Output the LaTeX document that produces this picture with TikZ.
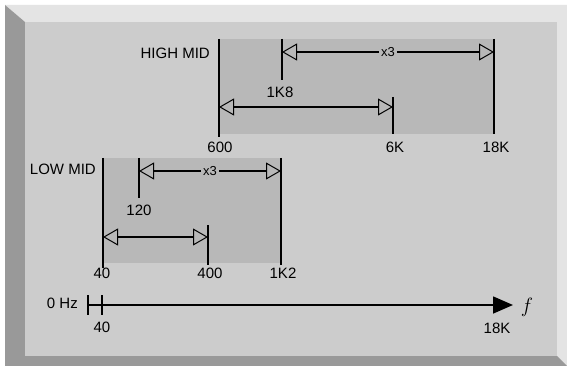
\documentclass[tikz,border=0pt]{standalone}
\usepackage{fontspec}
\setmainfont{Liberation Sans}
\usepackage{xcolor}
\usetikzlibrary{arrows.meta}
\definecolor{panel}{HTML}{CCCCCC}
\definecolor{bandgray}{HTML}{B8B8B8}
\definecolor{edgedark}{HTML}{999999}
\definecolor{edgelight}{HTML}{E4E4E4}

\begin{document}
\begin{tikzpicture}[
  x=1pt,y=-1pt,
  lbl/.style={font=\fontsize{15}{15}\selectfont,inner sep=0pt},
  factor/.style={font=\fontsize{13}{13}\selectfont,fill=bandgray,inner sep=2.5pt},
  limit/.style={line width=1.6pt},
  dimline/.style={line width=1.6pt,
    {Triangle[open,length=15pt,width=17pt,line width=1pt]}-{Triangle[open,length=15pt,width=17pt,line width=1pt]}},
  axis/.style={line width=1.6pt,-{Triangle[length=20pt,width=17pt]}}
]
\useasboundingbox (0,0) rectangle (567,366);
% bevelled frame
\fill[white] (0,0) rectangle (567,366);
\fill[edgelight] (5,5) -- (567,5) -- (567,366) -- (557,356) -- (557,22) -- (25,22) -- cycle;
\fill[edgedark] (5,5) -- (25,22) -- (25,356) -- (557,356) -- (567,366) -- (5,366) -- cycle;
\fill[panel] (25,22) rectangle (557,356);

% high mid band
\fill[bandgray] (219,39) rectangle (494,134);
\coordinate (h600t) at (219,39);  \coordinate (h600b) at (219,137);
\coordinate (h1k8t) at (282,39);  \coordinate (h1k8b) at (282,80);
\coordinate (h6kt)  at (393,97);  \coordinate (h6kb)  at (393,134);
\coordinate (h18kt) at (494,39);  \coordinate (h18kb) at (494,134);
\draw[limit] (h600t) -- (h600b);
\draw[limit] (h1k8t) -- (h1k8b);
\draw[limit] (h6kt) -- (h6kb);
\draw[limit] (h18kt) -- (h18kb);
\coordinate (ha1) at (282,52); \coordinate (ha2) at (494,52);
\coordinate (hb1) at (219,107); \coordinate (hb2) at (393,107);
\draw[dimline] (ha1) -- node[factor] (hx3) {x3} (ha2);
\draw[dimline] (hb1) -- (hb2);
\node[lbl,anchor=east] (hname) at (210,53) {HIGH MID};
\node[lbl] (h1k8) at (280,92) {1K8};
\node[lbl] (h600) at (220,147) {600};
\node[lbl] (h6k)  at (395,147) {6K};
\node[lbl] (h18k) at (496,147) {18K};

% low mid band
\fill[bandgray] (103,158) rectangle (280,263);
\coordinate (l40t)  at (103,158); \coordinate (l40b)  at (103,268);
\coordinate (l120t) at (139,158); \coordinate (l120b) at (139,198);
\coordinate (l400t) at (208,225); \coordinate (l400b) at (208,265);
\coordinate (l1k2t) at (281,158); \coordinate (l1k2b) at (281,265);
\draw[limit] (l40t) -- (l40b);
\draw[limit] (l120t) -- (l120b);
\draw[limit] (l400t) -- (l400b);
\draw[limit] (l1k2t) -- (l1k2b);
\coordinate (la1) at (139,171); \coordinate (la2) at (281,171);
\coordinate (lb1) at (103,237); \coordinate (lb2) at (208,237);
\draw[dimline] (la1) -- node[factor] (lx3) {x3} (la2);
\draw[dimline] (lb1) -- (lb2);
\node[lbl,anchor=east] (lname) at (96,169) {LOW MID};
\node[lbl] (l120) at (139,210) {120};
\node[lbl] (l40)  at (102,273) {40};
\node[lbl] (l400) at (210,273) {400};
\node[lbl] (l1k2) at (283,273) {1K2};

% frequency axis
\coordinate (ax0) at (88,305); \coordinate (axend) at (513,305);
\coordinate (t0t) at (88,295);  \coordinate (t0b) at (88,315);
\coordinate (t40t) at (102,295); \coordinate (t40b) at (102,315);
\draw[axis] (ax0) -- (axend);
\draw[limit] (t0t) -- (t0b);
\draw[limit] (t40t) -- (t40b);
\node[lbl,anchor=east] (zero) at (78,303) {0 Hz};
\node[lbl] (a40)  at (102,327) {40};
\node[lbl] (a18k) at (497,328) {18K};
\node[font=\fontsize{22}{22}\selectfont,inner sep=0pt] (freq) at (527,307) {$f$};
\end{tikzpicture}
\end{document}
